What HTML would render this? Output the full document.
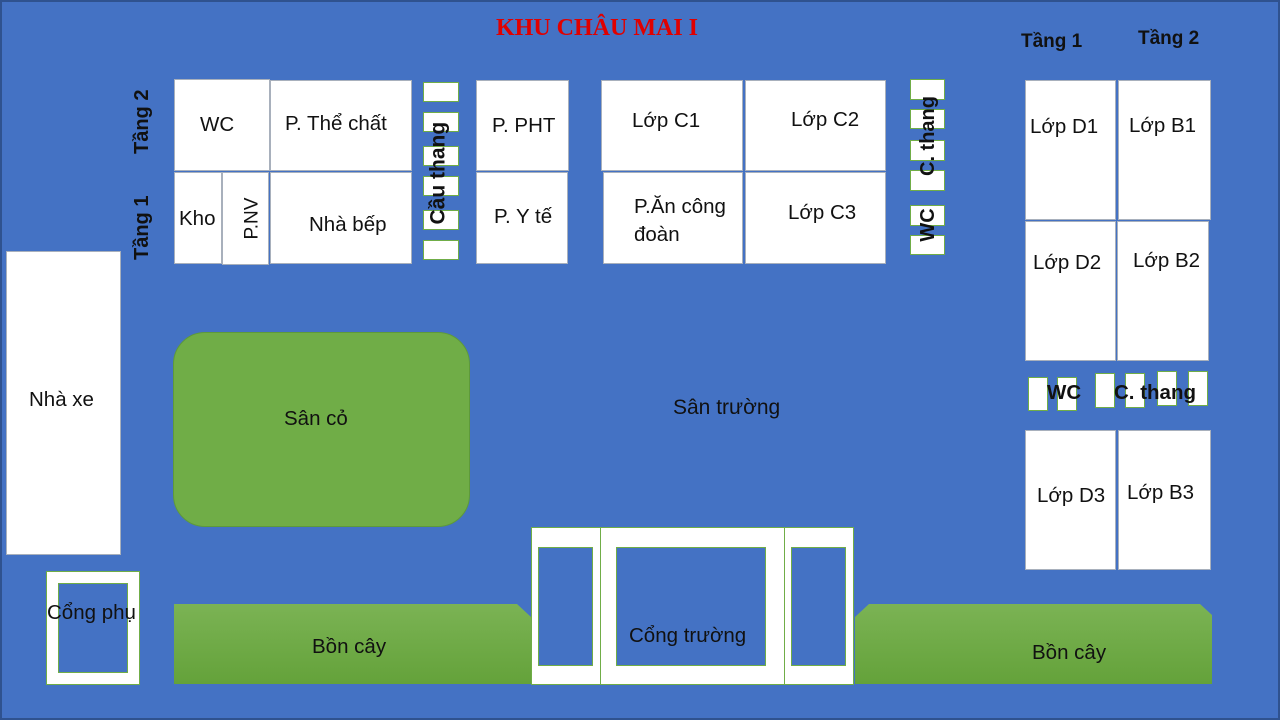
<!DOCTYPE html>
<html><head><meta charset="utf-8"><style>
*{margin:0;padding:0;box-sizing:border-box}
body{width:1280px;height:720px;background:#4472c4;position:relative;overflow:hidden;font-family:"Liberation Sans","DejaVu Sans",sans-serif;color:#111}
.b{position:absolute;background:#fff;border:1px solid #a8b0bc}
.s{position:absolute;background:#fff;border:1px solid #70ad47}
.t{position:absolute;font-size:20.5px;white-space:nowrap;line-height:1}
.bd{font-weight:bold}
.v{position:absolute;font-weight:bold;font-size:20px;white-space:nowrap;transform:rotate(-90deg);transform-origin:center;line-height:1}
.f{position:absolute;border:1px solid #70ad47;background:#4472c4}
</style></head><body>
<div style="position:absolute;left:0;top:0;width:1280px;height:720px;border:2px solid #2f528f"></div>
<div class="t" style="left:496px;top:16px;font-family:'Liberation Serif',serif;font-weight:bold;color:#e00000;font-size:24px">KHU CHÂU MAI I</div>
<div class="t bd" style="left:1021px;top:32px;font-size:19px">Tầng 1</div>
<div class="t bd" style="left:1138px;top:29px;font-size:19px">Tầng 2</div>

<div class="v" style="left:110px;top:112px;width:64px;text-align:center">Tầng 2</div>
<div class="v" style="left:110px;top:218px;width:64px;text-align:center">Tầng 1</div>

<div class="b" style="left:174px;top:79px;width:96px;height:92px"></div><div class="t" style="left:200px;top:115px">WC</div>
<div class="b" style="left:270px;top:80px;width:142px;height:91px"></div><div class="t" style="left:285px;top:114px">P. Thể chất</div>
<div class="b" style="left:174px;top:172px;width:48px;height:92px"></div><div class="t" style="left:179px;top:209px">Kho</div>
<div class="b" style="left:222px;top:172px;width:47px;height:93px"></div><div class="v" style="left:222px;top:209px;width:60px;font-weight:normal;font-size:19px;text-align:center">P.NV</div>
<div class="b" style="left:270px;top:172px;width:142px;height:92px"></div><div class="t" style="left:309px;top:215px">Nhà bếp</div>

<div class="s" style="left:423px;top:82px;width:36px;height:20px"></div>
<div class="s" style="left:423px;top:112px;width:36px;height:20px"></div>
<div class="s" style="left:423px;top:146px;width:36px;height:20px"></div>
<div class="s" style="left:423px;top:176px;width:36px;height:20px"></div>
<div class="s" style="left:423px;top:210px;width:36px;height:20px"></div>
<div class="s" style="left:423px;top:240px;width:36px;height:20px"></div>
<div class="v" style="left:388px;top:164px;width:100px;text-align:center;font-size:21px">Cầu thang</div>

<div class="b" style="left:476px;top:80px;width:93px;height:91px"></div><div class="t" style="left:492px;top:116px">P. PHT</div>
<div class="b" style="left:476px;top:172px;width:92px;height:92px"></div><div class="t" style="left:494px;top:207px">P. Y tế</div>

<div class="b" style="left:601px;top:80px;width:142px;height:91px"></div><div class="t" style="left:632px;top:111px">Lớp C1</div>
<div class="b" style="left:745px;top:80px;width:141px;height:91px"></div><div class="t" style="left:791px;top:110px">Lớp C2</div>
<div class="b" style="left:603px;top:172px;width:140px;height:92px"></div><div class="t" style="left:634px;top:193px;line-height:28px">P.Ăn công<br>đoàn</div>
<div class="b" style="left:745px;top:172px;width:141px;height:92px"></div><div class="t" style="left:788px;top:203px">Lớp C3</div>

<div class="s" style="left:910px;top:79px;width:35px;height:21px"></div>
<div class="s" style="left:910px;top:109px;width:35px;height:20px"></div>
<div class="s" style="left:910px;top:140px;width:35px;height:21px"></div>
<div class="s" style="left:910px;top:170px;width:35px;height:21px"></div>
<div class="s" style="left:910px;top:205px;width:35px;height:21px"></div>
<div class="s" style="left:910px;top:235px;width:35px;height:20px"></div>
<div class="v" style="left:888px;top:126px;width:80px;text-align:center">C. thang</div>
<div class="v" style="left:898px;top:215px;width:60px;text-align:center">WC</div>

<div class="b" style="left:1025px;top:80px;width:91px;height:140px"></div><div class="t" style="left:1030px;top:117px">Lớp D1</div>
<div class="b" style="left:1118px;top:80px;width:93px;height:140px"></div><div class="t" style="left:1129px;top:116px">Lớp B1</div>
<div class="b" style="left:1025px;top:221px;width:91px;height:140px"></div><div class="t" style="left:1033px;top:253px">Lớp D2</div>
<div class="b" style="left:1117px;top:221px;width:92px;height:140px"></div><div class="t" style="left:1133px;top:251px">Lớp B2</div>

<div class="s" style="left:1028px;top:377px;width:20px;height:34px"></div>
<div class="s" style="left:1057px;top:377px;width:20px;height:34px"></div>
<div class="s" style="left:1095px;top:373px;width:20px;height:35px"></div>
<div class="s" style="left:1125px;top:373px;width:20px;height:35px"></div>
<div class="s" style="left:1157px;top:371px;width:20px;height:35px"></div>
<div class="s" style="left:1188px;top:371px;width:20px;height:35px"></div>
<div class="t bd" style="left:1047px;top:383px">WC</div>
<div class="t bd" style="left:1114px;top:383px">C. thang</div>

<div class="b" style="left:1025px;top:430px;width:91px;height:140px"></div><div class="t" style="left:1037px;top:486px">Lớp D3</div>
<div class="b" style="left:1118px;top:430px;width:93px;height:140px"></div><div class="t" style="left:1127px;top:483px">Lớp B3</div>

<div class="b" style="left:6px;top:251px;width:115px;height:304px"></div><div class="t" style="left:29px;top:390px">Nhà xe</div>

<div style="position:absolute;left:173px;top:332px;width:297px;height:195px;border-radius:32px;background:#70ad47;border:1px solid #5e9a3a"></div>
<div class="t" style="left:284px;top:409px">Sân cỏ</div>
<div class="t" style="left:673px;top:397px;font-size:21px">Sân trường</div>

<svg style="position:absolute;left:0;top:0" width="1280" height="720">
<defs><linearGradient id="g" x1="0" y1="0" x2="0" y2="1"><stop offset="0" stop-color="#7bb354"/><stop offset="1" stop-color="#64a23a"/></linearGradient></defs>
<polygon points="174,604 517,604 531,617 531,684 174,684" fill="url(#g)"/>
<polygon points="869,604 1200,604 1212,615 1212,684 855,684 855,617" fill="url(#g)"/>
</svg>
<div class="t" style="left:312px;top:637px">Bồn cây</div>
<div class="t" style="left:1032px;top:643px">Bồn cây</div>

<div class="s" style="left:46px;top:571px;width:94px;height:114px"></div>
<div class="f" style="left:58px;top:583px;width:70px;height:90px"></div>
<div class="t" style="left:47px;top:603px">Cổng phụ</div>

<div class="s" style="left:531px;top:527px;width:70px;height:158px"></div>
<div class="f" style="left:538px;top:547px;width:55px;height:119px"></div>
<div class="s" style="left:600px;top:527px;width:185px;height:158px"></div>
<div class="f" style="left:616px;top:547px;width:150px;height:119px"></div>
<div class="s" style="left:784px;top:527px;width:70px;height:158px"></div>
<div class="f" style="left:791px;top:547px;width:55px;height:119px"></div>
<div class="t" style="left:629px;top:626px">Cổng trường</div>
</body></html>
